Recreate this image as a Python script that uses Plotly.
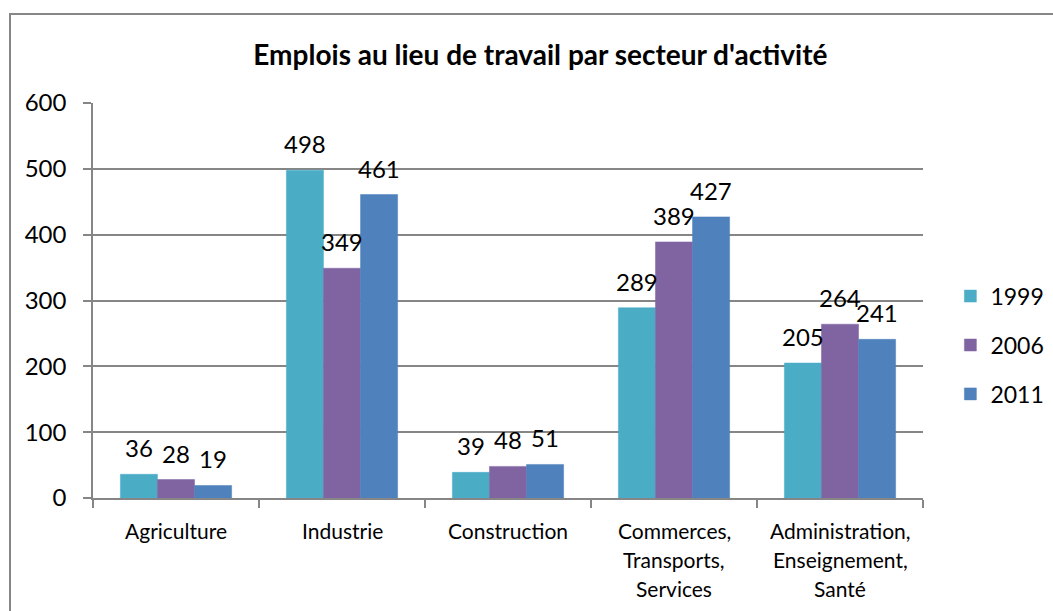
import plotly.graph_objects as go

# Employment by sector and census year
categories = ["Agriculture", "Industrie", "Construction",
              "Commerces,<br>Transports,<br>Services",
              "Administration,<br>Enseignement,<br>Santé"]
years = ["1999", "2006", "2011"]
values_1999 = [36, 498, 39, 289, 205]
values_2006 = [28, 349, 48, 389, 264]
values_2011 = [19, 461, 51, 427, 241]
y_ticks = [0, 100, 200, 300, 400, 500, 600]

series = [values_1999, values_2006, values_2011]
colors = ["#4BACC6", "#8064A2", "#4F81BD"]
FONT = "Lato"
GRID = "#868686"

W, H = 1053, 611
M_L, M_R, M_T, M_B = 93, 130, 103, 113
BARGAP = 0.33

fig = go.Figure()
for name, vals, col in zip(years, series, colors):
    fig.add_trace(go.Bar(
        name=name, x=categories, y=vals,
        marker=dict(color=col, line=dict(color=col, width=0.5)),
        legendgroup=name, hoverinfo="x+y+name",
    ))

# Value labels above each bar, centred on the bar within its group
plot_w = W - M_L - M_R
bar_px = plot_w / len(categories) * (1 - BARGAP) / len(series)
for i, vals in enumerate(series):
    offset = (i - (len(series) - 1) / 2) * bar_px
    for cat, v in zip(categories, vals):
        fig.add_annotation(x=cat, xref="x", y=v, yref="y", text=str(v),
                           showarrow=False, xshift=offset, yshift=10,
                           yanchor="bottom",
                           font=dict(family=FONT, size=24, color="#000000"))

fig.update_layout(
    width=W, height=H,
    margin=dict(l=M_L, r=M_R, t=M_T, b=M_B, autoexpand=False),
    paper_bgcolor="white", plot_bgcolor="white",
    barmode="group", bargap=BARGAP, bargroupgap=0,
    font=dict(family=FONT, size=20, color="#000000"),
    title=dict(text="<b>Emplois au lieu de travail par secteur d'activité</b>",
               font=dict(family=FONT, size=28, color="#000000"),
               x=0.539, xref="paper", xanchor="center",
               y=1 - 55 / 611, yref="container", yanchor="middle"),
    legend=dict(x=1.033, y=0.387, xanchor="left", yanchor="middle",
                font=dict(family=FONT, size=23), tracegroupgap=16,
                itemwidth=30, bgcolor="rgba(0,0,0,0)"),
    showlegend=True,
)

fig.update_yaxes(range=[0, 600], tickvals=y_ticks,
                 showgrid=True, gridcolor=GRID, gridwidth=1.5,
                 showline=True, linecolor=GRID, linewidth=1.5,
                 ticks="outside", ticklen=8, tickcolor=GRID, tickwidth=1.5,
                 tickfont=dict(family=FONT, size=24), ticklabelstandoff=12,
                 zeroline=False)
fig.update_xaxes(showline=True, linecolor=GRID, linewidth=1.5,
                 ticks="outside", tickson="boundaries", ticklen=8,
                 tickcolor=GRID, tickwidth=1.5, showticklabels=False,
                 showgrid=False)

# Category labels with wider line spacing
for cat in categories:
    for i, line in enumerate(cat.split("<br>")):
        fig.add_annotation(x=cat, xref="x", y=0, yref="paper",
                           text=line, showarrow=False,
                           font=dict(family=FONT, size=21, color="#000000"),
                           yanchor="middle", yshift=-(32 + 29 * i))

# Chart frame (top and left edges visible)
fig.add_shape(type="rect", xref="paper", yref="paper",
              x0=(10 - M_L) / plot_w, x1=1.3, y0=-0.5,
              y1=(H - M_B - 14) / (H - M_T - M_B),
              line=dict(color=GRID, width=2), layer="below")

fig.write_html("out.html")
